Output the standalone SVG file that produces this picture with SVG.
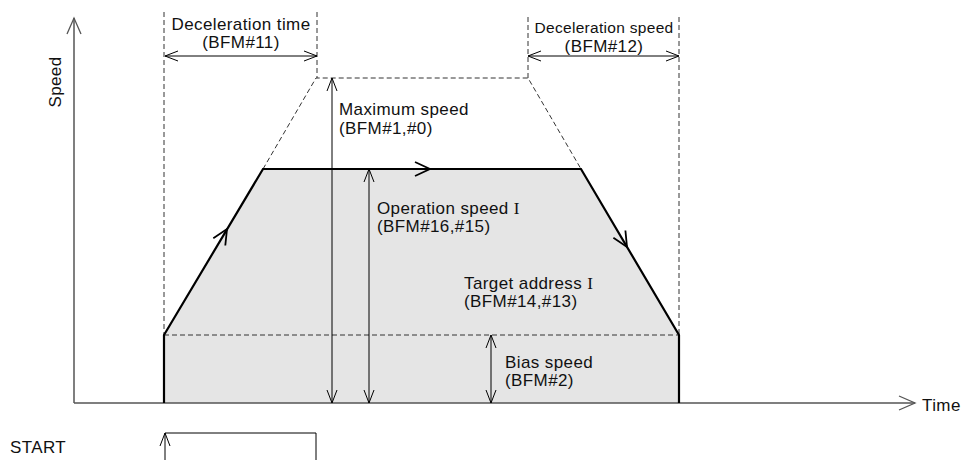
<svg xmlns="http://www.w3.org/2000/svg" width="963" height="460" viewBox="0 0 963 460">
<style>
text{font-family:"Liberation Sans",Arial,sans-serif;font-size:17px;letter-spacing:0.4px;fill:#111}
.s{font-family:"Liberation Serif","Times New Roman",serif}
.axis{stroke:#555;stroke-width:1.5;fill:none}
.dim{stroke:#000;stroke-width:1;fill:none}
.dash{stroke:#333;stroke-width:1;stroke-dasharray:5 3;fill:none}
.thick{stroke:#000;stroke-width:2.2;fill:none;stroke-linejoin:miter}
.chev{stroke:#000;stroke-width:1.8;fill:none}
</style>
<defs>
<marker id="a" viewBox="-15 -7 17 14" markerWidth="17" markerHeight="14" refX="0" refY="0" markerUnits="userSpaceOnUse" orient="auto-start-reverse">
<path d="M-13,-5 L0,0 L-13,5" fill="none" stroke="#000" stroke-width="1"/>
</marker>
<marker id="ax" viewBox="-18 -8 20 16" markerWidth="20" markerHeight="16" refX="0" refY="0" markerUnits="userSpaceOnUse" orient="auto">
<path d="M-16,-7 L0,0 L-16,7" fill="none" stroke="#555" stroke-width="1.3"/>
</marker>
</defs>
<rect width="963" height="460" fill="#fff"/>
<g id="profile">
<polygon points="164,403 164,335 263,169 581,169 679,335 679,403" fill="#e5e5e5"/>
</g>
<g id="guides">
<path class="dash" d="M164,12 V335 M317,12 V78 M528,17 V78 M679,17 V335"/>
<path class="dash" d="M263,169 L316,78 H528 L581,169"/>
<path class="dash" d="M164,335 H679"/>
</g>
<g id="axes">
<path class="axis" d="M74,403 V18" marker-end="url(#ax)"/>
<path class="axis" d="M74,403 H915" marker-end="url(#ax)"/>
<text transform="translate(61,82) rotate(-90)" text-anchor="middle">Speed</text>
<text x="922" y="411">Time</text>
</g>
<g id="connectors">
<path class="thick" d="M164,403 V335 L263,169 H581 L679,335 V403"/>
<path class="chev" d="M213.3,238.3 L227,229 L225.3,245.5"/>
<path class="chev" d="M415,162 L430,169 L415,176"/>
<path class="chev" d="M625.4,230.5 L627,247 L613.4,237.7"/>
<path class="dim" d="M165,56 H317" marker-start="url(#a)" marker-end="url(#a)"/>
<path class="dim" d="M528,56 H679" marker-start="url(#a)" marker-end="url(#a)"/>
<path class="dim" d="M332,78 V403" marker-start="url(#a)" marker-end="url(#a)"/>
<path class="dim" d="M369,169 V403" marker-start="url(#a)" marker-end="url(#a)"/>
<path class="dim" d="M491,335 V403" marker-start="url(#a)" marker-end="url(#a)"/>
<path class="dim" d="M165,460 V433" marker-end="url(#a)"/>
<path class="dim" d="M165,433 H316 V460"/>
</g>
<g id="labels">
<text x="241" y="30" text-anchor="middle">Deceleration time</text>
<text x="241" y="48" text-anchor="middle">(BFM#11)</text>
<text x="604" y="33" text-anchor="middle" style="font-size:15.5px;letter-spacing:0.3px">Deceleration speed</text>
<text x="604" y="52" text-anchor="middle">(BFM#12)</text>
<text x="339" y="115">Maximum speed</text>
<text x="339" y="134">(BFM#1,#0)</text>
<text x="377" y="214">Operation speed <tspan class="s">I</tspan></text>
<text x="377" y="232">(BFM#16,#15)</text>
<text x="464" y="289">Target address <tspan class="s">I</tspan></text>
<text x="464" y="307">(BFM#14,#13)</text>
<text x="505" y="368">Bias speed</text>
<text x="505" y="386">(BFM#2)</text>
<text x="10" y="453">START</text>
</g>
</svg>
